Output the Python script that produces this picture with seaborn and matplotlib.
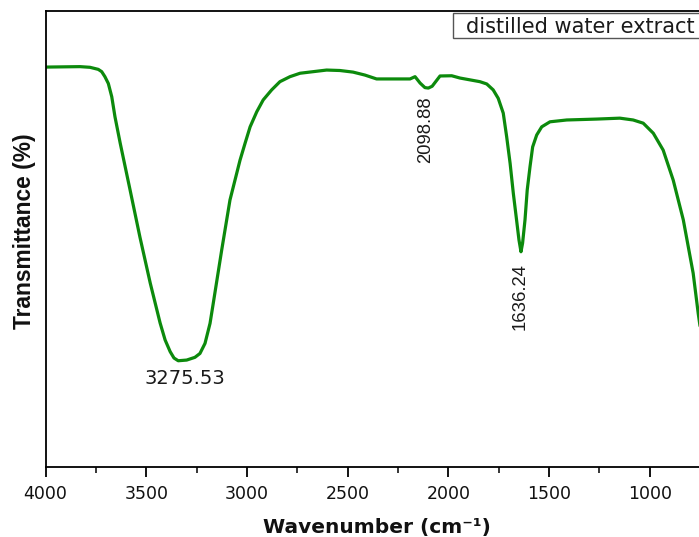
import matplotlib
matplotlib.use("Agg")
import matplotlib.pyplot as plt
import seaborn as sns
import pandas as pd
from matplotlib.patches import Rectangle

# Data
wavenumber = [4000, 3829, 3779, 3738, 3721, 3705, 3688, 3671, 3655, 3629, 3580,
              3531, 3480, 3431, 3406, 3381, 3362, 3341, 3299, 3258, 3233, 3208,
              3183, 3167, 3125, 3084, 3034, 3009, 2984, 2951, 2919, 2877, 2836,
              2786, 2736, 2604, 2538, 2473, 2414, 2356, 2190, 2165, 2140, 2116,
              2099, 2080, 2041, 1983, 1942, 1843, 1809, 1777, 1752, 1727, 1710,
              1693, 1677, 1661, 1649, 1639, 1631, 1619, 1608, 1594, 1581, 1561,
              1536, 1495, 1412, 1263, 1148, 1082, 1032, 982, 933, 883, 833, 784,
              759, 726]
transmittance = [87.7, 87.8, 87.65, 87.2, 86.7, 85.6, 84.1, 81.2, 76.8, 71.0, 60.75,
                 50.4, 40.35, 31.6, 27.85, 25.3, 23.9, 23.3, 23.45, 24.05, 24.9, 27.1,
                 31.5, 35.9, 47.6, 58.55, 67.3, 71.0, 74.6, 77.9, 80.5, 82.7, 84.5,
                 85.6, 86.35, 87.05, 86.95, 86.6, 85.95, 85.1, 85.1, 85.6, 84.2, 83.2,
                 83.1, 83.5, 85.75, 85.8, 85.3, 84.5, 84.0, 82.7, 80.85, 77.6, 72.4,
                 66.6, 60.0, 54.2, 49.8, 47.2, 49.1, 54.2, 60.75, 65.9, 70.2, 72.8,
                 74.6, 75.7, 76.1, 76.3, 76.5, 76.1, 75.4, 73.2, 69.5, 62.9, 54.2, 42.5,
                 33.7, 23.5]

x_ticks = [4000, 3500, 3000, 2500, 2000, 1500, 1000]
x_minor_ticks = [3750, 3250, 2750, 2250, 1750, 1250, 750]

peak_labels = ["3275.53", "2098.88", "1636.24"]
peak_text_x = [3307, 2113, 1644]
peak_text_y = [19.3, 73.9, 37.3]

legend_label = "distilled water extract"

sns.set_theme(style="white")
plt.rcParams['font.family'] = ['DejaVu Sans']

W, H = 699, 537
fig = plt.figure(figsize=(W / 100, H / 100), dpi=100)
ax = fig.add_axes([45.5 / W, (H - 467) / H, 725 / W, 456 / H])

df = pd.DataFrame({"Wavenumber": wavenumber, "Transmittance": transmittance})
sns.lineplot(data=df, x="Wavenumber", y="Transmittance", ax=ax,
             color="#0c8a0c", linewidth=2.3, estimator=None, sort=True)
ax.lines[0].set_solid_joinstyle('round')

ax.set_xlim(4000, 400)
ax.set_ylim(0, 100)
ax.set_xticks(x_ticks)
ax.set_xticks(x_minor_ticks, minor=True)
ax.set_yticks([])
ax.tick_params(axis='x', which='major', direction='out', length=7, width=1.3,
               bottom=True, labelsize=12.5, colors='black', labelcolor='#111111',
               pad=6)
ax.tick_params(axis='x', which='minor', direction='out', length=4.5, width=1.3,
               bottom=True)
for s in ["left", "bottom", "top"]:
    ax.spines[s].set_color("black")
    ax.spines[s].set_linewidth(1.3)
ax.spines["right"].set_visible(False)

ax.set_xlabel("Wavenumber (cm\u207b\u00b9)", fontsize=14.5, fontweight='bold',
              color='#111111')
ax.xaxis.label.set_va('baseline')
ax.xaxis.set_label_coords((377 - 45.5) / 725, -(533 - 467) / 456)

ax.set_ylabel("Transmittance (%)", fontsize=16.4, fontweight='bold',
              color='#111111', family=['Liberation Sans', 'DejaVu Sans'])
ax.yaxis.label.set_va('center')
ax.yaxis.set_label_coords(-(45.5 - 25) / 725, (467 - 231) / 456)

ax.text(peak_text_x[0], peak_text_y[0], peak_labels[0], ha='center',
        va='center', fontsize=14, color='#1a1a1a')
for lab, x, y in zip(peak_labels[1:], peak_text_x[1:], peak_text_y[1:]):
    ax.text(x, y, lab, rotation=90, ha='center', va='center', fontsize=13.3,
            color='#1a1a1a', family=['Liberation Sans', 'DejaVu Sans'])

# legend box (cut off by the figure edge, as in the reference)
fig.patches.append(Rectangle((452.7 / W, (H - 38.3) / H), 300 / W, 25 / H,
                             transform=fig.transFigure, facecolor='white',
                             edgecolor='#555555', linewidth=1.0))
fig.text(466 / W, (H - 33.3) / H, legend_label, fontsize=15, ha='left',
         va='baseline', color='#1a1a1a')

fig.savefig("out.png", dpi=100)
